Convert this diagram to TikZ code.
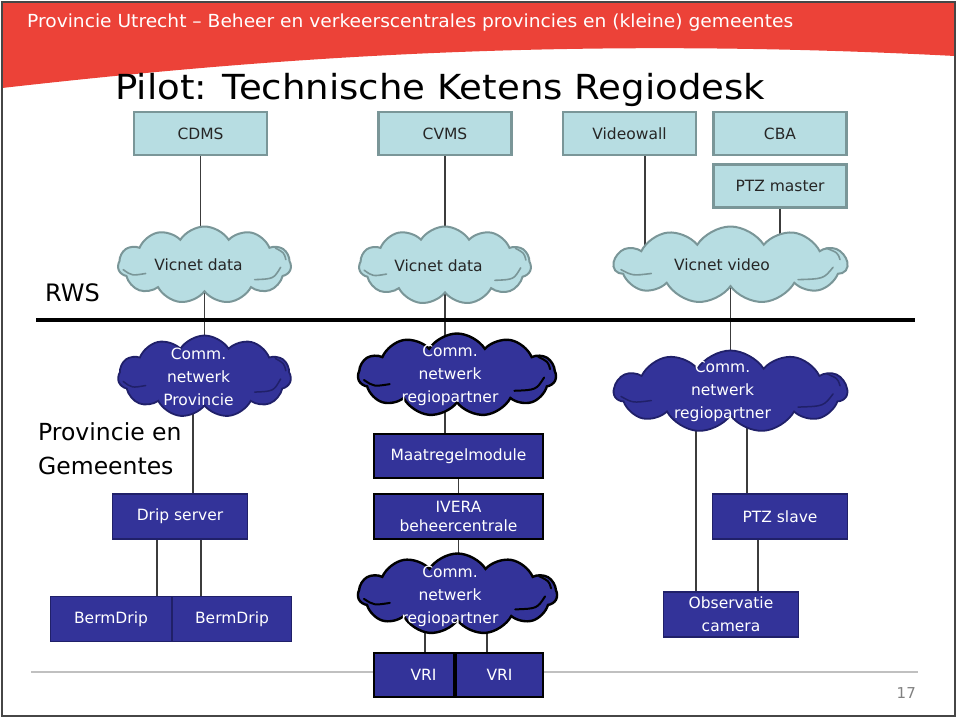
\documentclass[tikz,border=0pt]{standalone}
\usepackage{fontspec}
\setmainfont{DejaVu Sans}
\usepackage{graphicx}
\usetikzlibrary{shapes.symbols,backgrounds,calc}
\definecolor{hdrred}{RGB}{236,66,56}
\definecolor{tealfill}{RGB}{183,221,226}
\definecolor{tealedge}{RGB}{122,150,152}
\definecolor{navyfill}{RGB}{51,51,153}
\definecolor{navyedge}{RGB}{32,32,105}
\definecolor{connc}{RGB}{60,60,60}
\definecolor{footgray}{RGB}{192,192,192}
\definecolor{pagegray}{RGB}{128,128,128}
\definecolor{framec}{RGB}{70,70,70}
\tikzset{
  boxfont/.style={font=\fontsize{15.5}{19}\selectfont},
  tealbox/.style={rectangle, boxfont, fill=tealfill, draw=tealedge, line width=2.2pt,
    text=black!85, minimum width=133pt, minimum height=43pt, inner sep=0pt},
  navybox/.style={rectangle, boxfont, fill=navyfill, draw=navyedge, line width=1.3pt,
    text=white, minimum height=45pt, inner sep=0pt, align=center},
  navyboxk/.style={navybox, draw=black, line width=2.4pt},
  tealcloud/.style={cloud, cloud puffs=11, cloud puff arc=115, cloud ignores aspect,
    fill=tealfill, draw=tealedge, line width=2pt, inner sep=0pt},
  navycloud/.style={cloud, cloud puffs=11, cloud puff arc=115, cloud ignores aspect,
    fill=navyfill, draw=navyedge, line width=1.8pt, inner sep=0pt},
  navycloudk/.style={navycloud, draw=black, line width=2.4pt},
  cloudtext/.style={text=white, align=center, inner sep=0pt,
    font=\fontsize{15.5}{23}\selectfont},
  tcloudtext/.style={boxfont, text=black!85, inner sep=0pt},
  conn/.style={draw=connc, line width=1.2pt},
  bigtext/.style={anchor=base west, inner sep=0pt, font=\fontsize{23.5}{34}\selectfont, text=black},
  tealarc/.style={draw=tealedge, line width=1.6pt, line cap=round},
  navyarc/.style={draw=navyedge, line width=1.5pt, line cap=round},
  navyarck/.style={draw=black, line width=2pt, line cap=round}
}
% inner puff lines of a cloud: #1 node name, #2 width, #3 height, #4 style
\newcommand{\cloudarcs}[4]{%
  \draw[#4] ($(#1.center)+(-0.47*#2,0.06*#3)$) .. controls ($(#1.center)+(-0.42*#2,0.14*#3)$) .. ($(#1.center)+(-0.34*#2,0.11*#3)$);
  \draw[#4] ($(#1.center)+(0.29*#2,0.19*#3)$) .. controls ($(#1.center)+(0.40*#2,0.18*#3)$) .. ($(#1.center)+(0.44*#2,0.03*#3)$);
  \draw[#4] ($(#1.center)+(0.41*#2,-0.22*#3)$) .. controls ($(#1.center)+(0.46*#2,-0.16*#3)$) .. ($(#1.center)+(0.47*#2,-0.07*#3)$);
}
\begin{document}
\begin{tikzpicture}[x=1pt, y=-1pt]
\useasboundingbox (0,0) rectangle (960,718);

% ---------- top row (teal) ----------
\node[tealbox] (cdms) at (200.5,133.5) {CDMS};
\node[tealbox] (cvms) at (445,133.5) {CVMS};
\node[tealbox] (vw)   at (629.5,133.5) {Videowall};
\node[tealbox] (cba)  at (780,133.5) {CBA};
\node[tealbox] (ptzm) at (780,186) {PTZ master};

\node[tealcloud, minimum width=173pt, minimum height=77pt] (vd1) at (204.5,265) {};
\node[tealcloud, minimum width=172pt, minimum height=78pt] (vd2) at (445,265.5) {};
\node[tealcloud, minimum width=233pt, minimum height=77pt] (vv)  at (730.5,265) {};
\cloudarcs{vd1}{173}{77}{tealarc}
\cloudarcs{vd2}{172}{78}{tealarc}
\cloudarcs{vv}{233}{77}{tealarc}
\node[tcloudtext] (vd1t) at ([xshift=-6pt]vd1.center) {Vicnet data};
\node[tcloudtext] (vd2t) at ([xshift=-6.5pt]vd2.center) {Vicnet data};
\node[tcloudtext] (vvt)  at ([xshift=-8.5pt]vv.center) {Vicnet video};

% ---------- lower part (navy) ----------
\node[navycloud, minimum width=173pt, minimum height=82pt] (cp) at (204.5,376.5) {};
\node[navycloudk, minimum width=198pt, minimum height=83pt] (cm1) at (457,375) {};
\node[navycloud, minimum width=233pt, minimum height=82pt] (cr) at (730.5,391.5) {};
\node[navycloudk, minimum width=199pt, minimum height=81pt] (cm2) at (457.5,594) {};
\cloudarcs{cp}{173}{82}{navyarc}
\cloudarcs{cm1}{198}{83}{navyarck}
\cloudarcs{cr}{233}{82}{navyarc}
\cloudarcs{cm2}{199}{81}{navyarck}
\node[cloudtext] (cpt)  at ([xshift=-6pt]cp.center)  {Comm.\\netwerk\\Provincie};
\node[cloudtext] (cm1t) at ([xshift=-7pt]cm1.center) {Comm.\\netwerk\\regiopartner};
\node[cloudtext] (crt)  at ([xshift=-8pt]cr.center)  {Comm.\\netwerk\\regiopartner};
\node[cloudtext] (cm2t) at ([xshift=-7.5pt,yshift=-2pt]cm2.center) {Comm.\\netwerk\\regiopartner};

\node[navybox, minimum width=135pt] (drip) at (180,516.5) {Drip server};
\node[navybox, minimum width=121pt] (bd1) at (111,619) {BermDrip};
\node[navybox, minimum width=119pt] (bd2) at (232,619) {BermDrip};

\node[navyboxk, minimum width=169pt, minimum height=44pt] (maat) at (458.5,456) {Maatregelmodule};
\node[navyboxk, minimum width=169pt, minimum height=45pt, font=\fontsize{15.5}{19}\selectfont] (ivera) at (458.5,516.5) {IVERA\\beheercentrale};
\node[navyboxk, minimum width=80pt, minimum height=44pt, text width=80pt] (vri1) at (414,675) {\hspace*{19pt}VRI};
\node[navyboxk, minimum width=87pt, minimum height=44pt] (vri2) at (499.5,675) {VRI};

\node[navybox, minimum width=135pt] (ptzs) at (780,516.5) {PTZ slave};
\node[navybox, minimum width=135pt, font=\fontsize{15.5}{23}\selectfont] (obs) at (731,614.5) {Observatie\\camera};

% ---------- free texts ----------
\node[anchor=base west, inner sep=0pt, text=white] (hdr) at (27,27)
  {\resizebox{766pt}{\height}{\fontsize{18}{18}\selectfont Provincie Utrecht – Beheer en verkeerscentrales provincies en (kleine) gemeentes}};
\node[anchor=base west, inner sep=0pt, text=black] (title) at (115,99)
  {\resizebox{650pt}{\height}{\fontsize{34.5}{34.5}\selectfont Pilot: Technische Ketens Regiodesk}};
\node[anchor=base west, inner sep=0pt, font=\fontsize{24}{24}\selectfont] (rws) at (45,301) {RWS};
\node[bigtext] (pg1) at (38,440) {Provincie en};
\node[bigtext] (pg2) at (38,474) {Gemeentes};
\node[anchor=base east, inner sep=0pt, text=pagegray, font=\fontsize{15}{15}\selectfont] (pnum) at (916,698) {17};

\coordinate (busL) at (36,320);
\coordinate (busR) at (915,320);
\coordinate (ftL) at (31,672);
\coordinate (ftR) at (918,672);

% ---------- background: header, connectors ----------
\begin{scope}[on background layer]
  \fill[hdrred] (2,2) -- (955,2) -- (955,56) .. controls (550,35) and (250,60) .. (2,88) -- cycle;
  \draw[footgray, line width=1.6pt] (ftL) -- (ftR);

  \draw[conn] (cdms.south) -- (cdms.south |- vd1.center);
  \draw[conn] (cvms.south) -- (cvms.south |- vd2.center);
  \draw[conn] ([xshift=15.5pt]vw.south) -- ([xshift=15.5pt]vw.south |- vv.center);
  \draw[conn] (ptzm.south) -- (ptzm.south |- vv.center);

  \draw[conn] (vd1.center) -- (vd1.center |- cp.center);
  \draw[conn] (vd2.center) -- (vd2.center |- cm1.center);
  \draw[conn] (vv.center) -- (vv.center |- cr.center);

  \draw[conn] ([xshift=13pt]drip.north) -- ([xshift=13pt]drip.north |- cp.center);
  \draw[conn] ([xshift=-23pt]drip.south) -- ([xshift=-23pt]drip.south |- bd1.center);
  \draw[conn] ([xshift=21pt]drip.south) -- ([xshift=21pt]drip.south |- bd2.center);

  \draw[conn] (vd2.center |- cm1.center) -- (vd2.center |- maat.center);
  \draw[conn] (maat.center) -- (maat.center |- ivera.center);
  \draw[conn] (ivera.center) -- (ivera.center |- cm2.center);
  \draw[conn] ([xshift=11pt]vri1.center) -- ([xshift=11pt]vri1.center |- cm2.center);
  \draw[conn] ([xshift=-12.5pt]vri2.center) -- ([xshift=-12.5pt]vri2.center |- cm2.center);

  \draw[conn] ([xshift=-35pt]obs.center) -- ([xshift=-35pt]obs.center |- cr.center);
  \draw[conn] ([xshift=-33pt]ptzs.center) -- ([xshift=-33pt]ptzs.center |- cr.center);
  \draw[conn] ([xshift=-22pt]ptzs.center) -- ([xshift=-22pt]ptzs.center |- obs.center);

  \draw[black, line width=4pt] (busL) -- (busR);
\end{scope}

\draw[framec, line width=1.5pt] (2,2) rectangle (955,716);
\end{tikzpicture}
\end{document}
